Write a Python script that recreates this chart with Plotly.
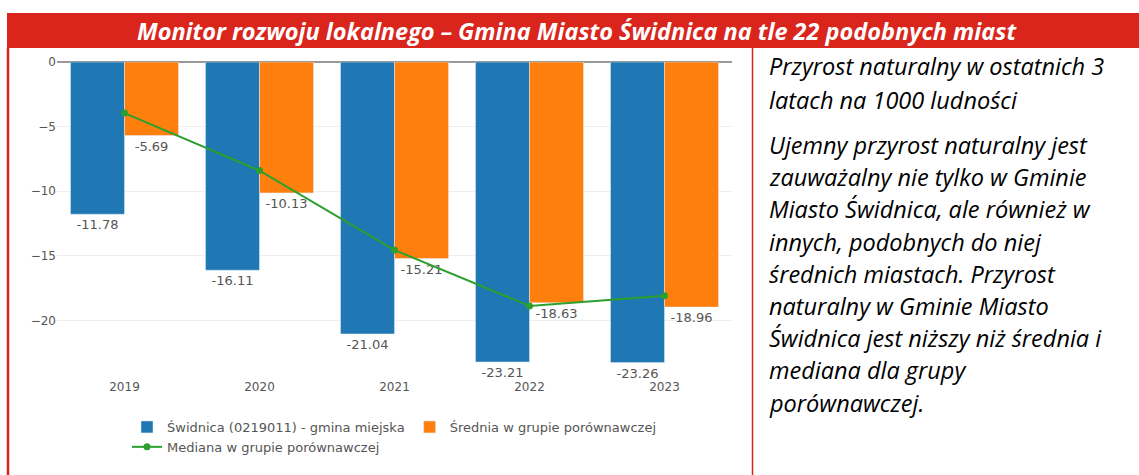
import plotly.graph_objects as go

years = ["2019", "2020", "2021", "2022", "2023"]
swidnica = [-11.78, -16.11, -21.04, -23.21, -23.26]
srednia = [-5.69, -10.13, -15.21, -18.63, -18.96]
mediana = [-3.95, -8.4, -14.55, -18.87, -18.08]

name_sw = "Świdnica (0219011) - gmina miejska"
name_sr = "Średnia w grupie porównawczej"
name_me = "Mediana w grupie porównawczej"

header_text = "Monitor rozwoju lokalnego – Gmina Miasto Świdnica na tle 22 podobnych miast"
note_par1 = ["Przyrost naturalny w ostatnich 3", "latach na 1000 ludności"]
note_par2 = [
    "Ujemny przyrost naturalny jest",
    "zauważalny nie tylko w Gminie",
    "Miasto Świdnica, ale również w",
    "innych, podobnych do niej",
    "średnich miastach. Przyrost",
    "naturalny w Gminie Miasto",
    "Świdnica jest niższy niż średnia i",
    "mediana dla grupy",
    "porównawczej.",
]

W, H = 1139, 475
L, R, T, B = 57, 732, 62, 378  # plot area in pixels
RED = "rgb(218,37,29)"


def px(x):
    return (x - L) / (R - L)


def py(y):
    return (B - y) / (B - T)


fig = go.Figure()
fig.add_trace(go.Bar(
    x=years, y=swidnica, name=name_sw, marker_color="#1f77b4",
    text=[f"{v:.2f}" for v in swidnica], textposition="outside",
    textfont=dict(color="#555", size=13), cliponaxis=False,
))
fig.add_trace(go.Bar(
    x=years, y=srednia, name=name_sr, marker_color="#ff7f0e",
    text=[f"{v:.2f}" for v in srednia], textposition="outside",
    textfont=dict(color="#555", size=13), cliponaxis=False,
))
fig.add_trace(go.Scatter(
    x=years, y=mediana, name=name_me, mode="lines+markers",
    line=dict(color="#2ca02c", width=2), marker=dict(size=7, color="#2ca02c"),
))

shapes = [
    dict(type="rect", xref="paper", yref="paper", x0=px(7), x1=px(1139), y0=py(48), y1=py(13),
         fillcolor=RED, line_width=0, layer="above"),
    dict(type="line", xref="paper", yref="paper", x0=px(8), x1=px(8), y0=py(48), y1=py(476),
         line=dict(color=RED, width=2.5)),
    dict(type="line", xref="paper", yref="paper", x0=px(752.5), x1=px(752.5), y0=py(48), y1=py(476),
         line=dict(color=RED, width=1.5)),
]

annotations = [
    dict(xref="paper", yref="paper", x=px(577), y=py(31), text=f"<b><i>{header_text}</i></b>",
         showarrow=False, xanchor="center", yanchor="middle",
         font=dict(family="Open Sans", size=23.5, color="white")),
]
ys = [66, 100] + [145 + 32.2 * i for i in range(len(note_par2))]
for txt, yy in zip(note_par1 + note_par2, ys):
    annotations.append(dict(xref="paper", yref="paper", x=px(767), y=py(yy), text=f"<i>{txt}</i>",
                            showarrow=False, xanchor="left", yanchor="middle",
                            font=dict(family="Open Sans", size=23.5, color="black")))

fig.update_layout(
    width=W, height=H,
    margin=dict(l=L, r=W - R, t=T, b=H - B, pad=0),
    autosize=False,
    paper_bgcolor="white", plot_bgcolor="white",
    font=dict(family="DejaVu Sans", size=12, color="#555"),
    barmode="group", bargap=0.2, bargroupgap=0,
    showlegend=True,
    legend=dict(orientation="h", x=0.5, xanchor="center", y=py(412), yanchor="top",
                font=dict(size=13, color="#555"), tracegroupgap=0),
    shapes=shapes, annotations=annotations,
)
fig.update_xaxes(type="category", showgrid=False, ticks="", showline=False)
fig.update_yaxes(range=[-24.45, 0], dtick=5, gridcolor="#eee", zeroline=True,
                 zerolinecolor="#999", zerolinewidth=1.5, ticks="", showline=False)

fig.write_html("out.html", config={"displayModeBar": False},
               post_script="document.body.style.margin='0';")
